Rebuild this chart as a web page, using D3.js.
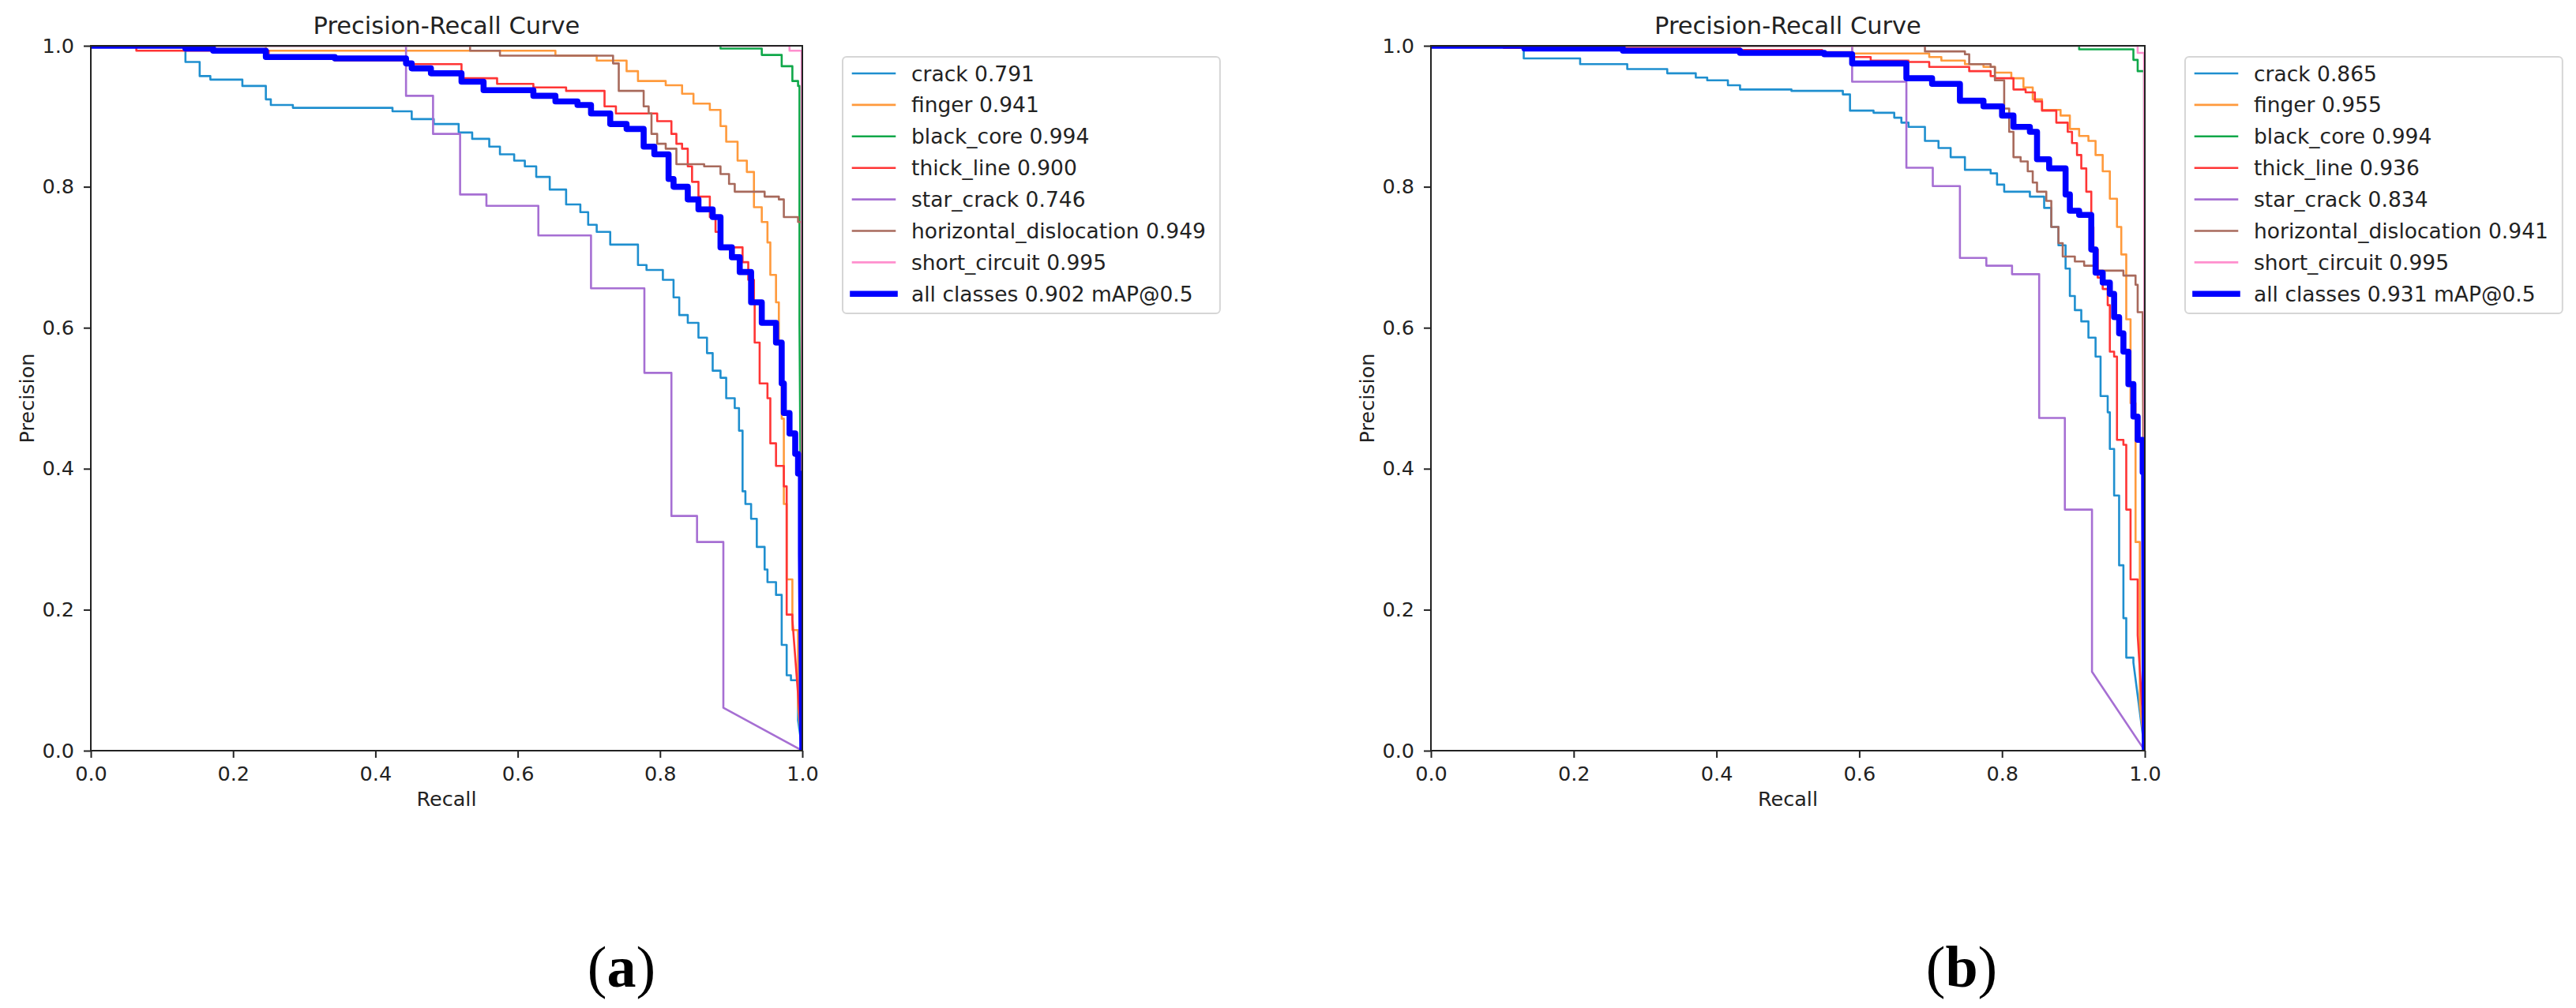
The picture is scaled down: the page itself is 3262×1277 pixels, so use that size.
<!DOCTYPE html>
<html>
<head>
<meta charset="utf-8">
<script src="https://cdn.jsdelivr.net/npm/d3@7"></script>
<style>
  html, body { margin: 0; padding: 0; background: #fff; }
  svg { display: block; }
</style>
</head>
<body>
<div id="chart"></div>
<script>
// class names and legend values
const classNames = ['crack', 'finger', 'black_core', 'thick_line', 'star_crack', 'horizontal_dislocation', 'short_circuit'];
const classColors = ['#1f8fcf', '#ff9a3c', '#10a84a', '#ff3535', '#a66fd3', '#a86a5c', '#ff8fce'];
const apA = ['0.791', '0.941', '0.994', '0.900', '0.746', '0.949', '0.995'];
const apB = ['0.865', '0.955', '0.994', '0.936', '0.834', '0.941', '0.995'];
const mapA = '0.902';
const mapB = '0.931';
const tickValues = [0, 0.2, 0.4, 0.6, 0.8, 1.0];

// PR curves, [recall, precision] step points
const crackA = [[0,1],[0.133,0.977],[0.153,0.957],[0.168,0.952],[0.213,0.943],[0.246,0.924],[0.253,0.916],[0.284,0.912],[0.424,0.907],[0.451,0.896],[0.482,0.889],[0.517,0.877],[0.536,0.868],[0.56,0.857],[0.575,0.846],[0.595,0.837],[0.61,0.829],[0.626,0.814],[0.645,0.796],[0.668,0.775],[0.688,0.764],[0.699,0.746],[0.711,0.736],[0.730,0.718],[0.769,0.689],[0.781,0.682],[0.804,0.668],[0.819,0.643],[0.827,0.618],[0.839,0.607],[0.854,0.586],[0.866,0.564],[0.874,0.539],[0.885,0.529],[0.893,0.5],[0.905,0.486],[0.911,0.454],[0.916,0.368],[0.92,0.35],[0.928,0.329],[0.936,0.289],[0.947,0.257],[0.951,0.239],[0.963,0.221],[0.971,0.15],[0.978,0.107],[0.984,0.1],[0.994,0.043]];
const fingerA = [[0,1],[0.246,0.993],[0.653,0.986],[0.711,0.979],[0.753,0.964],[0.769,0.95],[0.808,0.944],[0.831,0.932],[0.847,0.918],[0.870,0.909],[0.885,0.886],[0.893,0.864],[0.909,0.837],[0.922,0.821],[0.932,0.771],[0.943,0.75],[0.951,0.721],[0.955,0.675],[0.963,0.636],[0.967,0.579],[0.971,0.471],[0.974,0.35],[0.978,0.243],[0.986,0.171],[0.994,0.064]];
const blackCoreA = [[0,1],[0.885,0.996],[0.943,0.987],[0.971,0.971],[0.986,0.95],[0.994,0.943],[0.996,0.607]];
const thickLineA = [[0,1],[0.064,0.993],[0.25,0.985],[0.343,0.979],[0.443,0.974],[0.521,0.954],[0.571,0.946],[0.622,0.941],[0.668,0.936],[0.722,0.914],[0.738,0.904],[0.796,0.893],[0.816,0.875],[0.823,0.861],[0.831,0.854],[0.839,0.829],[0.845,0.807],[0.854,0.786],[0.870,0.757],[0.878,0.736],[0.885,0.714],[0.916,0.693],[0.924,0.668],[0.932,0.636],[0.933,0.579],[0.940,0.521],[0.951,0.5],[0.955,0.436],[0.963,0.404],[0.974,0.375],[0.978,0.193],[0.986,0.186]];
const starCrackA = [[0,1],[0.443,0.929],[0.481,0.875],[0.519,0.789],[0.556,0.773],[0.629,0.731],[0.703,0.656],[0.778,0.536],[0.816,0.333],[0.852,0.296],[0.889,0.061]];
const horizontalA = [[0,1],[0.533,0.993],[0.575,0.986],[0.734,0.975],[0.742,0.936],[0.777,0.914],[0.784,0.904],[0.788,0.875],[0.796,0.861],[0.808,0.854],[0.823,0.832],[0.862,0.829],[0.885,0.818],[0.897,0.804],[0.905,0.793],[0.947,0.786],[0.967,0.782],[0.974,0.757],[0.994,0.75],[0.999,0.75]];
const shortCircuitA = [[0,1],[0.982,0.993],[0.999,0.993]];
const allClassesA = [[0,1],[0.133,0.996],[0.172,0.993],[0.246,0.984],[0.343,0.982],[0.443,0.975],[0.451,0.968],[0.478,0.961],[0.521,0.949],[0.552,0.937],[0.622,0.929],[0.653,0.921],[0.684,0.916],[0.703,0.904],[0.730,0.889],[0.753,0.882],[0.777,0.857],[0.792,0.846],[0.812,0.811],[0.819,0.8],[0.839,0.782],[0.854,0.768],[0.874,0.757],[0.885,0.714],[0.901,0.7],[0.912,0.679],[0.928,0.636],[0.943,0.607],[0.963,0.579],[0.971,0.521],[0.974,0.479],[0.982,0.45],[0.99,0.421],[0.994,0.393],[0.998,0.279]];

const crackB = [[0,1],[0.130,0.982],[0.209,0.974],[0.275,0.967],[0.331,0.961],[0.371,0.955],[0.387,0.951],[0.416,0.944],[0.433,0.938],[0.505,0.936],[0.577,0.931],[0.587,0.908],[0.620,0.905],[0.649,0.898],[0.659,0.891],[0.669,0.885],[0.692,0.865],[0.711,0.855],[0.728,0.842],[0.748,0.824],[0.784,0.819],[0.793,0.803],[0.803,0.793],[0.839,0.786],[0.859,0.770],[0.869,0.743],[0.879,0.717],[0.889,0.684],[0.895,0.645],[0.902,0.625],[0.911,0.609],[0.921,0.586],[0.931,0.559],[0.938,0.503],[0.948,0.480],[0.951,0.428],[0.957,0.362],[0.964,0.263],[0.970,0.188],[0.974,0.132],[0.984,0.125]];
const fingerB = [[0,1],[0.590,0.989],[0.698,0.984],[0.715,0.979],[0.748,0.974],[0.774,0.970],[0.790,0.962],[0.813,0.954],[0.830,0.941],[0.843,0.924],[0.856,0.909],[0.882,0.901],[0.895,0.882],[0.908,0.872],[0.921,0.865],[0.931,0.845],[0.941,0.822],[0.951,0.783],[0.961,0.743],[0.967,0.704],[0.974,0.612],[0.980,0.493],[0.987,0.296],[0.993,0.066]];
const blackCoreB = [[0,1],[0.908,0.995],[0.984,0.980],[0.990,0.964],[0.999,0.964]];
const thickLineB = [[0,1],[0.102,0.997],[0.433,0.994],[0.548,0.991],[0.590,0.984],[0.616,0.979],[0.669,0.977],[0.698,0.970],[0.754,0.964],[0.784,0.957],[0.790,0.954],[0.816,0.938],[0.833,0.934],[0.846,0.921],[0.856,0.908],[0.876,0.891],[0.892,0.878],[0.898,0.862],[0.905,0.845],[0.911,0.826],[0.918,0.793],[0.925,0.743],[0.928,0.711],[0.934,0.671],[0.941,0.655],[0.948,0.632],[0.951,0.566],[0.957,0.559],[0.961,0.441],[0.970,0.434],[0.974,0.342],[0.980,0.243],[0.990,0.164]];
const starCrackB = [[0,1],[0.590,0.949],[0.666,0.827],[0.703,0.801],[0.741,0.699],[0.778,0.688],[0.814,0.676],[0.852,0.472],[0.888,0.342],[0.926,0.112]];
const horizontalB = [[0,1],[0.692,0.992],[0.748,0.988],[0.754,0.974],[0.784,0.970],[0.790,0.951],[0.803,0.911],[0.810,0.878],[0.816,0.842],[0.826,0.836],[0.836,0.822],[0.843,0.806],[0.849,0.793],[0.862,0.780],[0.869,0.743],[0.879,0.720],[0.885,0.701],[0.902,0.694],[0.915,0.688],[0.931,0.681],[0.970,0.674],[0.987,0.661],[0.990,0.622],[0.997,0.612]];
const shortCircuitB = [[0,1],[0.990,0.990],[0.999,0.990]];
const allClassesB = [[0,1],[0.131,0.996],[0.269,0.993],[0.433,0.990],[0.551,0.988],[0.590,0.975],[0.666,0.954],[0.702,0.946],[0.741,0.922],[0.774,0.914],[0.800,0.901],[0.816,0.885],[0.839,0.878],[0.849,0.839],[0.866,0.826],[0.889,0.789],[0.895,0.766],[0.908,0.760],[0.925,0.711],[0.931,0.678],[0.941,0.664],[0.951,0.648],[0.957,0.615],[0.964,0.592],[0.970,0.566],[0.977,0.520],[0.984,0.474],[0.990,0.441],[0.997,0.395],[0.999,0.37]];

const width = 3262, height = 1277;
const plotTop = 58, plotBottom = 951;
const font = 'DejaVu Sans, sans-serif';

const panels = [
  { left: 115, right: 1016, tag: 'a', curves: [crackA, fingerA, blackCoreA, thickLineA, starCrackA, horizontalA, shortCircuitA], all: allClassesA, ap: apA, map: mapA },
  { left: 1812, right: 2716, tag: 'b', curves: [crackB, fingerB, blackCoreB, thickLineB, starCrackB, horizontalB, shortCircuitB], all: allClassesB, ap: apB, map: mapB }
];

const svg = d3.select('#chart').append('svg')
  .attr('width', width)
  .attr('height', height)
  .style('background', '#fff');

// turn step points into vertices; last step runs straight to (1, 0)
function stepVertices(pts) {
  const out = [];
  pts.forEach((p, i) => {
    out.push(p);
    if (i < pts.length - 1) out.push([pts[i + 1][0], p[1]]);
  });
  out.push([1, 0]);
  return out;
}

panels.forEach((panel, pi) => {
  const x = d3.scaleLinear().domain([0, 1]).range([panel.left, panel.right]);
  const y = d3.scaleLinear().domain([0, 1]).range([plotBottom, plotTop]);

  const clipId = 'clip-' + panel.tag;
  svg.append('clipPath').attr('id', clipId)
    .append('rect')
    .attr('x', x(0)).attr('y', y(1))
    .attr('width', x(1) - x(0)).attr('height', y(0) - y(1));

  const line = d3.line()
    .x(d => x(d[0]))
    .y(d => y(d[1]));

  const g = svg.append('g').attr('clip-path', `url(#${clipId})`);

  panel.curves.forEach((c, i) => {
    g.append('path')
      .datum(stepVertices(c))
      .attr('d', line)
      .style('fill', 'none')
      .style('stroke', classColors[i])
      .style('stroke-width', 2.6)
      .style('stroke-linejoin', 'round');
  });

  g.append('path')
    .datum(stepVertices(panel.all))
    .attr('d', line)
    .style('fill', 'none')
    .style('stroke', '#0000ff')
    .style('stroke-width', 7.6)
    .style('stroke-linejoin', 'round');

  // axes
  const fmt = d3.format('.1f');
  const xAxis = svg.append('g')
    .attr('transform', `translate(0,${plotBottom})`)
    .call(d3.axisBottom(x).tickValues(tickValues).tickFormat(fmt).tickSize(9).tickPadding(11).tickSizeOuter(0));
  const yAxis = svg.append('g')
    .attr('transform', `translate(${panel.left},0)`)
    .call(d3.axisLeft(y).tickValues(tickValues).tickFormat(fmt).tickSize(9).tickPadding(12).tickSizeOuter(0));

  [xAxis, yAxis].forEach(ax => {
    ax.select('.domain').remove();
    ax.selectAll('line').style('stroke', '#222').style('stroke-width', 2);
    ax.selectAll('text')
      .style('font-family', font)
      .style('font-size', '25.5px')
      .style('fill', '#222');
  });

  // frame
  svg.append('rect')
    .attr('x', x(0)).attr('y', y(1))
    .attr('width', x(1) - x(0)).attr('height', y(0) - y(1))
    .style('fill', 'none')
    .style('stroke', '#222')
    .style('stroke-width', 2);

  // title and axis labels
  svg.append('text')
    .attr('x', (x(0) + x(1)) / 2)
    .attr('y', plotTop - 15)
    .attr('text-anchor', 'middle')
    .style('font-family', font)
    .style('font-size', '30.5px')
    .style('fill', '#222')
    .text('Precision-Recall Curve');

  svg.append('text')
    .attr('x', (x(0) + x(1)) / 2)
    .attr('y', plotBottom + 70)
    .attr('text-anchor', 'middle')
    .style('font-family', font)
    .style('font-size', '25.5px')
    .style('fill', '#222')
    .text('Recall');

  svg.append('text')
    .attr('transform', `translate(${panel.left - 72},${(plotTop + plotBottom) / 2}) rotate(-90)`)
    .attr('text-anchor', 'middle')
    .style('font-family', font)
    .style('font-size', '25.5px')
    .style('fill', '#222')
    .text('Precision');

  // legend
  const lx = x(1) + 51, ly = 72, rowH = 39.9;
  const legend = svg.append('g');
  const box = legend.append('rect')
    .attr('x', lx).attr('y', ly)
    .attr('rx', 5).attr('ry', 5)
    .attr('height', 325)
    .style('fill', '#fff')
    .style('stroke', '#d6d6d6')
    .style('stroke-width', 2);

  const items = classNames.map((n, i) => ({ label: `${n} ${panel.ap[i]}`, color: classColors[i], w: 2.6 }));
  items.push({ label: `all classes ${panel.map} mAP@0.5`, color: '#0000ff', w: 7.6 });

  let maxW = 0;
  items.forEach((it, i) => {
    const cy = ly + 21 + i * rowH;
    legend.append('line')
      .attr('x1', lx + 13).attr('x2', lx + 66)
      .attr('y1', cy).attr('y2', cy)
      .style('stroke', it.color)
      .style('stroke-width', it.w)
      .style('stroke-linecap', 'square');
    const t = legend.append('text')
      .attr('x', lx + 87)
      .attr('y', cy)
      .attr('dy', '0.36em')
      .style('font-family', font)
      .style('font-size', '26.5px')
      .style('fill', '#222')
      .text(it.label);
    maxW = Math.max(maxW, t.node().getComputedTextLength());
  });
  box.attr('width', 87 + maxW + 18);

  // sub-figure tag
  svg.append('text')
    .attr('x', panel.left + 672)
    .attr('y', 1250)
    .attr('text-anchor', 'middle')
    .style('font-family', 'Liberation Serif, Times New Roman, serif')
    .style('font-size', '74px')
    .style('fill', '#000')
    .call(t => {
      t.append('tspan').text('(');
      t.append('tspan').style('font-weight', 'bold').text(panel.tag);
      t.append('tspan').text(')');
    });
});
</script>
</body>
</html>
